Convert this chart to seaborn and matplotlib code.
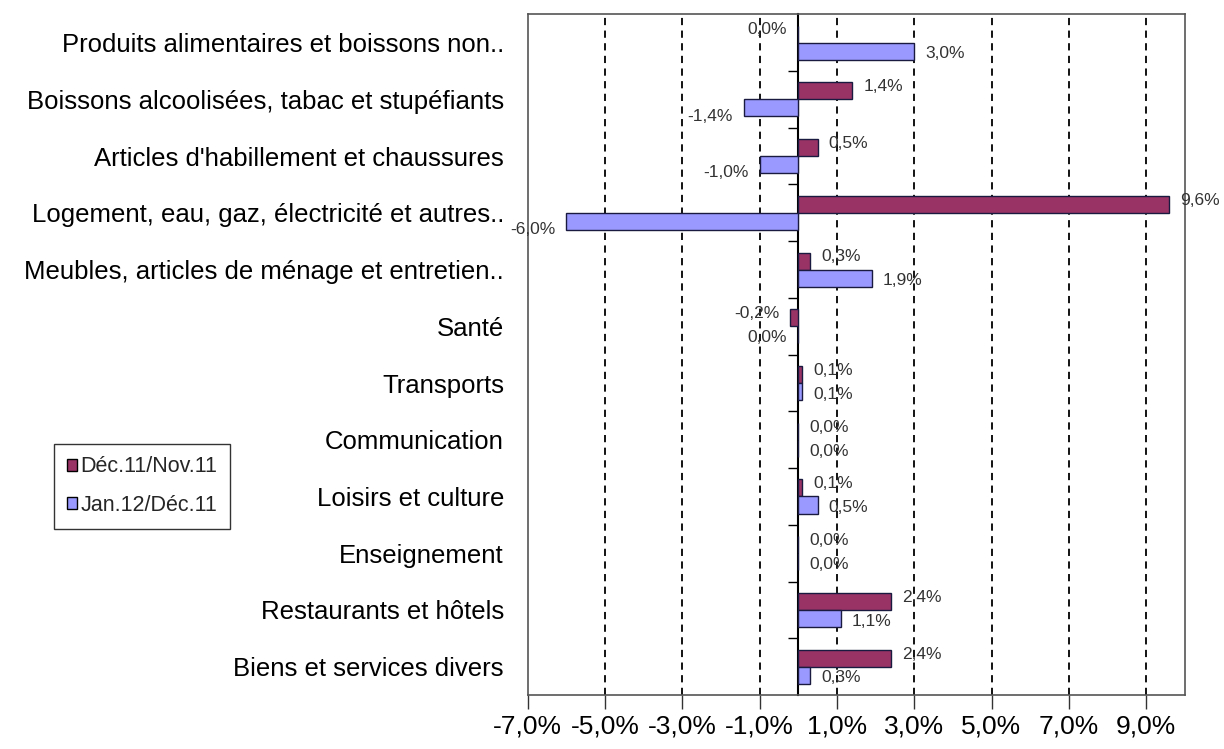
import matplotlib
matplotlib.use("Agg")
import matplotlib.pyplot as plt
import seaborn as sns
import pandas as pd
import numpy as np

categories = [
    "Produits alimentaires et boissons non..",
    "Boissons alcoolisées, tabac et stupéfiants",
    "Articles d'habillement et chaussures",
    "Logement, eau, gaz, électricité et autres..",
    "Meubles, articles de ménage et entretien..",
    "Santé",
    "Transports",
    "Communication",
    "Loisirs et culture",
    "Enseignement",
    "Restaurants et hôtels",
    "Biens et services divers",
]
series_names = ["Déc.11/Nov.11", "Jan.12/Déc.11"]
dec_nov = [-0.01, 1.4, 0.5, 9.6, 0.3, -0.2, 0.1, 0.0, 0.1, 0.0, 2.4, 2.4]
jan_dec = [3.0, -1.4, -1.0, -6.0, 1.9, -0.01, 0.1, 0.0, 0.5, 0.0, 1.1, 0.3]
x_ticks = [-7, -5, -3, -1, 1, 3, 5, 7, 9]
colors = ["#993366", "#9999FF"]

df = pd.DataFrame({
    "cat": categories * 2,
    "series": [series_names[0]] * len(categories) + [series_names[1]] * len(categories),
    "val": dec_nov + jan_dec,
})

sns.set_theme(style="white")
plt.rcParams["font.family"] = ["Liberation Sans", "DejaVu Sans"]

fig = plt.figure(figsize=(12.24, 7.49), dpi=100)
ax = fig.add_axes([0.431, 0.072, 0.537, 0.909])

sns.barplot(data=df, y="cat", x="val", hue="series", orient="h",
            order=categories, hue_order=series_names, palette=colors,
            errorbar=None, width=0.6, edgecolor="#1a1a40", linewidth=1.0,
            saturation=1, ax=ax, legend=True)

ax.set_xlim(-7, 10)
ax.set_xticks(x_ticks)
ax.set_xticklabels([f"{t:.1f}%".replace(".", ",") for t in x_ticks], fontsize=19, color="black")
ax.tick_params(axis="x", direction="out", length=10, width=1, color="#333333", pad=4, bottom=True)
for t in x_ticks[1:]:
    ax.axvline(t, color="black", linestyle=(0, (4, 3)), linewidth=1.3, zorder=0)

ax.set_yticks(range(len(categories)))
ax.set_yticklabels(categories, fontsize=18.5, color="black")
ax.tick_params(axis="y", length=0, pad=17)
ax.set_xlabel("")
ax.set_ylabel("")

for sp in ax.spines.values():
    sp.set_color("#555555")
    sp.set_linewidth(1.2)

# category axis drawn at zero
sec = ax.secondary_yaxis(7 / 17)
sec.set_yticks([i + 0.5 for i in range(len(categories) - 1)])
sec.set_yticklabels([])
sec.tick_params(axis="y", direction="out", length=7, width=1, color="black")
sec.spines["left"].set_color("black")
sec.spines["left"].set_linewidth(1.5)

def fmt(v):
    r = round(v, 1)
    if r == 0:
        r = 0.0
    return f"{abs(r) if r == 0 else r:.1f}%".replace(".", ",")

for k, (cont, vals) in enumerate(zip(ax.containers, [dec_nov, jan_dec])):
    anns = ax.bar_label(cont, labels=[fmt(v) for v in vals], padding=8,
                        fontsize=12.5, color="#333333")
    for a, v in zip(anns, vals):
        dx, _ = a.xyann
        if k == 0:
            dy = 3
        else:
            dy = -6 if v < -0.05 else -2
        a.xyann = (dx, dy)

leg = ax.legend(loc="center", bbox_to_anchor=(0.116, 0.351), bbox_transform=fig.transFigure,
                fontsize=15.5, frameon=True, fancybox=False, edgecolor="black",
                handlelength=0.5, handleheight=0.5, handletextpad=0.15,
                labelspacing=0.8, borderpad=0.6, borderaxespad=0)
leg.get_frame().set_linewidth(1.0)
for h in leg.legend_handles:
    h.set_edgecolor("black")

fig.savefig("out.png", dpi=100)
